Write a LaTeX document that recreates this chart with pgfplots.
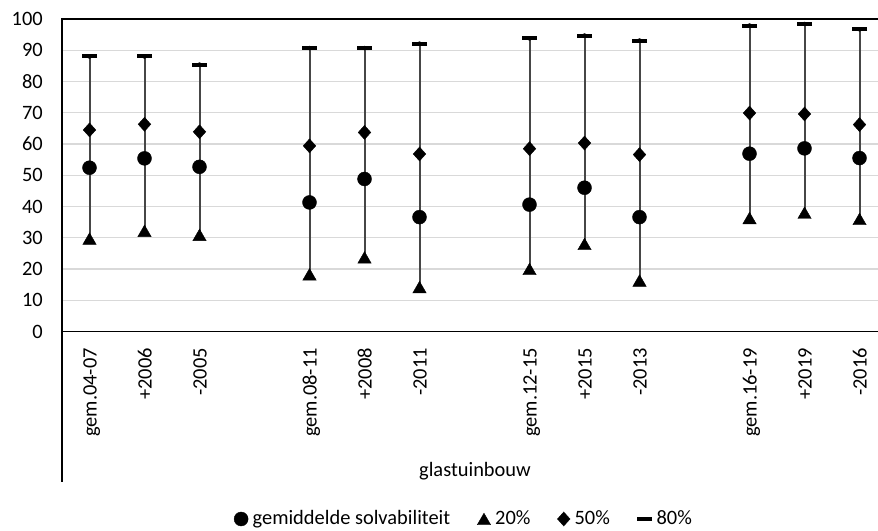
\documentclass[border=0pt]{standalone}
\usepackage{fontspec}
\setmainfont{Carlito}
\usepackage{pgfplots}
\usepackage{pgfplotstable}
\pgfplotsset{compat=1.18}
\definecolor{gridc}{RGB}{217,217,217}
\definecolor{hl}{RGB}{70,70,70}

\pgfplotstableread{
x  gem  p20  p50  p80
0  52.4 29.7 64.5 88.0
1  55.4 32.2 66.3 88.0
2  52.7 30.9 63.9 85.4
4  41.3 18.3 59.4 90.7
5  48.8 23.7 63.7 90.7
6  36.6 14.2 56.8 92.1
8  40.6 20.0 58.5 93.8
9  46.0 28.0 60.3 94.7
10 36.6 16.3 56.6 93.1
12 56.9 36.3 69.9 97.9
13 58.6 38.0 69.6 98.4
14 55.5 36.0 66.2 96.7
}\data

\begin{document}
\fontsize{20.5}{24}\selectfont
\begin{tikzpicture}[x=1bp,y=1bp]
\useasboundingbox (0,0) rectangle (878,531);
\begin{axis}[
  at={(62bp,199.5bp)}, anchor=south west,
  scale only axis, width=819.5bp, height=312.5bp,
  xmin=-0.5, xmax=14.4, ymin=0, ymax=100,
  ytick={0,10,...,100},
  xtick={0,1,2,4,5,6,8,9,10,12,13,14},
  xticklabels={gem.04-07,+2006,-2005,gem.08-11,+2008,-2011,gem.12-15,+2015,-2013,gem.16-19,+2019,-2016},
  major tick length=0pt,
  ymajorgrids, grid style={gridc, line width=1.2bp},
  axis line style={black, line width=1.8bp},
  /pgf/number format/assume math mode=true,
  ticklabel style={font=\fontsize{20.5}{24}\selectfont, inner sep=0pt},
  yticklabel style={anchor=east},
  yticklabel shift=19bp,
  xticklabel style={rotate=90, anchor=east, text height=18bp, text depth=4bp},
  xticklabel shift=16.5bp,
  legend columns=4,
  legend style={at={(0.4893,-0.6)}, anchor=center, draw=none, fill=none,
    font=\fontsize{20.5}{24}\selectfont,
    nodes={inner sep=0pt},
    /tikz/every odd column/.append style={column sep=4.5bp},
    /tikz/every even column/.append style={column sep=27bp}},
  legend image code/.code={\draw[#1] plot coordinates {(0bp,0bp)};},
]
\addplot[only marks, mark=none, forget plot,
  error bars/.cd, y dir=minus, y explicit,
  error bar style={hl, line width=2bp}, error mark=none]
  table[x=x, y=p80, y error minus expr=\thisrow{p80}-\thisrow{p20}] {\data};
\addplot[only marks, mark=*, mark size=7bp, mark options={draw=none, fill=black}]
  table[x=x, y=gem] {\data};
\addlegendentry{gemiddelde solvabiliteit}
\addplot[only marks, mark=triangle*, mark size=7.7bp, mark options={draw=none, fill=black, yshift=-1.9bp}]
  table[x=x, y=p20] {\data};
\addlegendentry{20\%}
\addplot[only marks, mark=diamond*, mark size=7bp, mark options={draw=none, fill=black, xscale=1.2}]
  table[x=x, y=p50] {\data};
\addlegendentry{50\%}
\addplot[only marks, mark=-, mark size=7.6bp, mark options={black, line width=4bp}]
  table[x=x, y=p80] {\data};
\addlegendentry{80\%}
\end{axis}
\draw[black, line width=1.6bp] (62,199.5) -- (62,49);
\node[anchor=center, inner sep=0pt, font=\fontsize{20.5}{24}\selectfont] at (475,60) {glastuinbouw};
\end{tikzpicture}
\end{document}
